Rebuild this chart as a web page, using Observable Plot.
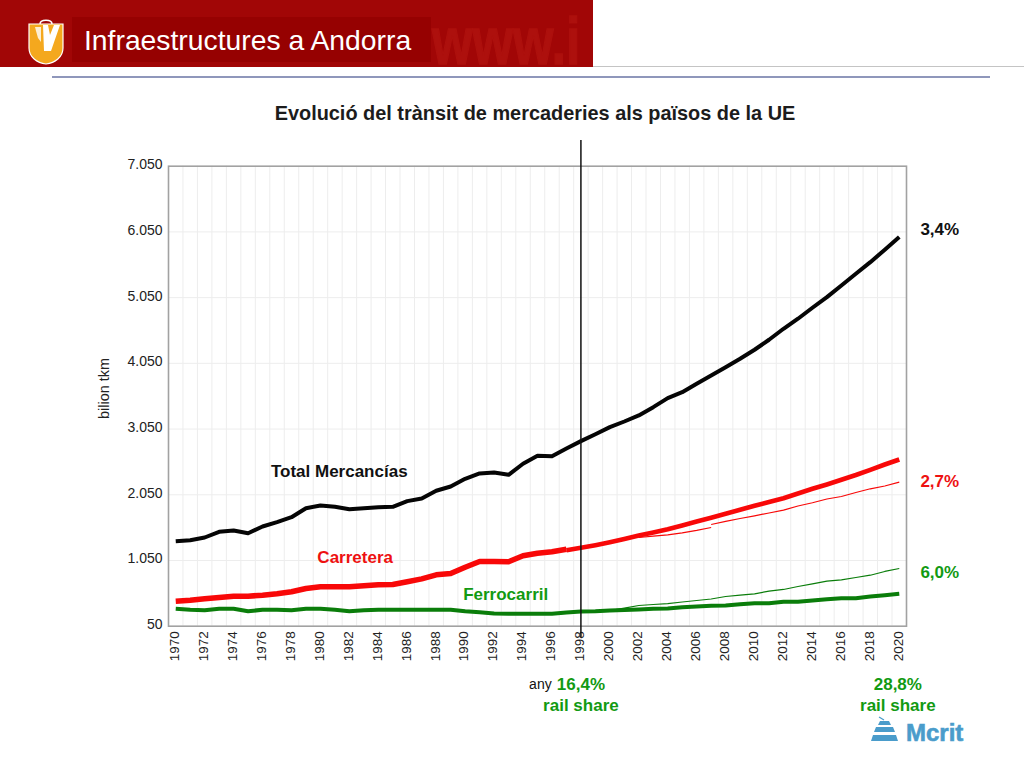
<!DOCTYPE html>
<html lang="ca">
<head>
<meta charset="utf-8">
<script src="https://cdn.jsdelivr.net/npm/d3@7"></script>
<script src="https://cdn.jsdelivr.net/npm/@observablehq/plot@0.6"></script>
<style>
html,body{margin:0;padding:0;background:#fff;width:1024px;height:768px;overflow:hidden;font-family:"Liberation Sans",Arial,sans-serif}
#top{position:relative;height:130px;width:1024px}
#band{position:absolute;left:0;top:0;width:593px;height:67px;background:#a10606}
#block{position:absolute;left:72px;top:17px;width:359px;height:45px;background:#960101}
#head{position:absolute;left:84px;top:24px;font:28.3px/32px "Liberation Sans";color:#fff;white-space:nowrap}
#greyline{position:absolute;left:593px;top:66px;width:431px;height:1px;background:#c4c4c4}
#blueline{position:absolute;left:52px;top:76px;width:938px;height:1.5px;background:#8f97bb}
#title{position:absolute;left:0;width:1070px;top:102px;text-align:center;font:bold 19.9px/22px "Liberation Sans";color:#1c1c1c;white-space:nowrap}
#shield{position:absolute;left:28px;top:18px}
#wm{position:absolute;left:431px;top:0}
#mcrit{position:absolute;left:870px;top:716px}
#chart svg{display:block}
</style>
</head>
<body>
<div id="top">
  <div id="band"></div>
  <svg id="wm" width="165" height="90"><text transform="translate(1 64) scale(.93 1.2)" font-family="Liberation Sans" font-weight="bold" font-size="56" fill="#ad100d" stroke="#ad100d" stroke-width="1.2">www.i</text></svg>
  <div id="block" style="position:absolute"></div>
  <svg id="shield" width="36" height="47" viewBox="0 0 36 47">
    <path d="M1 6H35V30C35 39 27 45 18 46C9 45 1 39 1 30Z" fill="#f4a81e" stroke="#fff" stroke-width="1.2"/>
    <path d="M12 6C12 1 24 1 24 6" fill="none" stroke="#fff" stroke-width="1.5"/>
    <path d="M15 7H20L22 17L26 7H32L23 33H16Z" fill="#fff"/>
    <path d="M7 9H13V24L10 20L8 13Z" fill="#fff" opacity=".8"/>
  </svg>
  <div id="head">Infraestructures a Andorra</div>
  <div id="greyline"></div>
  <div id="blueline"></div>
  <div id="title">Evolució del trànsit de mercaderies als països de la UE</div>
</div>
<div id="chart"></div>
<svg id="mcrit" width="95" height="30" viewBox="0 0 95 30">
  <path d="M9 1L14 4" stroke="#4a9ccb" stroke-width="1.3" fill="none"/>
  <path d="M9 5H18L20 9H7Z M5 11H22L24 16H3Z M2 19H25L27 25H0Z" fill="#4a9ccb" transform="translate(1 0)"/>
  <text x="36" y="25" font-family="Liberation Sans" font-weight="bold" font-size="24" fill="#4a9ccb" stroke="#4a9ccb" stroke-width=".6">Mcrit</text>
</svg>
<script>
const yTicks = [50, 1050, 2050, 3050, 4050, 5050, 6050, 7050];
const xTicks = d3.range(1970, 2021, 2);
const gridYears = d3.range(1970.5, 2020, 1);

const totalValues = [1344,1359,1400,1487,1507,1465,1567,1633,1709,1846,1887,1867,1831,1846,1861,1867,1953,1994,2111,2176,2293,2374,2389,2354,2522,2643,2637,2755,2866,2972,3079,3165,3257,3383,3520,3611,3739,3866,3992,4120,4257,4409,4576,4729,4896,5057,5235,5414,5590,5779,5971];
const roadEarly = [430,446,467,487,507,507,522,543,574,624,650,650,650,665,680,685,726,771,832,852,948,1035,1035,1030,1121,1161,1182,1222];
const roadLate = [1205,1243,1283,1328,1377,1430,1476,1526,1583,1644,1700,1761,1822,1882,1940,1998,2070,2141,2207,2278,2351,2430,2511,2587];
const roadThinA = [1400,1420,1441,1469,1507,1552];
const roadThinB = [1598,1644,1689,1730,1773,1816,1879,1928,1986,2024,2085,2141,2184,2242];
const railValues = [315,300,294,315,315,278,300,300,294,315,315,300,278,294,300,300,300,300,300,300,278,263,243,239,239,239,239,259,274,278,289,297,304,315,319,339,350,360,365,383,400,400,421,421,441,459,476,476,502,522,543];
const railThin = [289,325,365,380,395,418,441,464,502,522,543,583,609,654,695,735,756,791,826,883,928];

const series = (start, values) => values.map((v, i) => ({year: start + i, value: v}));

const ink = "#111";
const red = "#f80808";
const greenLine = "#0a7d0a";
const greenText = "#129a12";

const labels = [
  {x: 1981.3, y: 2405, t: "Total Mercancías", c: "#111"},
  {x: 1982.4, y: 1096, t: "Carretera", c: "#ee1111"},
  {x: 1992.8, y: 532, t: "Ferrocarril", c: greenText},
  {x: 2022.8, y: 6088, t: "3,4%", c: "#111"},
  {x: 2022.8, y: 2252, t: "2,7%", c: "#ee1111"},
  {x: 2022.8, y: 867, t: "6,0%", c: greenText},
  {x: 1998, y: -838, t: "16,4%", c: greenText},
  {x: 1998, y: -1158, t: "rail share", c: greenText},
  {x: 2019.9, y: -838, t: "28,8%", c: greenText},
  {x: 2019.9, y: -1158, t: "rail share", c: greenText}
];

const line = (data, stroke, w) => Plot.line(data, {x: "year", y: "value", stroke, strokeWidth: w, strokeLinecap: "butt", strokeLinejoin: "round"});

const chart = Plot.plot({
  width: 1024,
  height: 638,
  marginLeft: 168,
  marginRight: 118,
  marginTop: 35.7,
  marginBottom: 142.3,
  style: {fontFamily: "Liberation Sans", background: "transparent", overflow: "visible"},
  x: {domain: [1969.5, 2020.5], label: null},
  y: {domain: [50, 7050], label: null},
  marks: [
    Plot.ruleX(gridYears, {stroke: "#ededed", strokeWidth: 1}),
    Plot.ruleY(yTicks.slice(1, -1), {stroke: "#ededed", strokeWidth: 1}),
    Plot.frame({stroke: "#a2a2a2", strokeWidth: 1.6}),
    Plot.axisY(yTicks, {
      tickSize: 0, tickPadding: 6, dy: -1.5, fontSize: 14, fill: "#222", label: null,
      tickFormat: d => d3.format(",")(d).replace(",", ".")
    }),
    Plot.axisX(xTicks, {
      tickSize: 0, tickPadding: 5, tickRotate: -90, fontSize: 13.5, fill: "#222", label: null,
      tickFormat: d => String(d), dx: -1
    }),
    line(series(2002, roadThinA), red, 1.2),
    line(series(2007, roadThinB), red, 1.2),
    line(series(2000, railThin), greenLine, 1.2),
    line(series(1970, railValues), greenLine, 4),
    line(series(1970, roadEarly), red, 5.5),
    line(series(1997, roadLate), red, 4.6),
    line(series(1970, totalValues), "#050505", 4),
    Plot.ruleX([1998], {y1: -122, y2: 7442, stroke: "#111", strokeWidth: 1.5}),
    Plot.text(labels, {x: "x", y: "y", text: "t", fill: "c", fontSize: 17, fontWeight: "bold"}),
    Plot.text(["any"], {x: [1995.2], y: [-838], fontSize: 14, fill: ink}),
    Plot.text(["bilion tkm"], {x: [1965.05], y: [3668], rotate: -90, fontSize: 14.5, fill: "#222"})
  ]
});
document.getElementById("chart").appendChild(chart);
</script>
</body>
</html>
